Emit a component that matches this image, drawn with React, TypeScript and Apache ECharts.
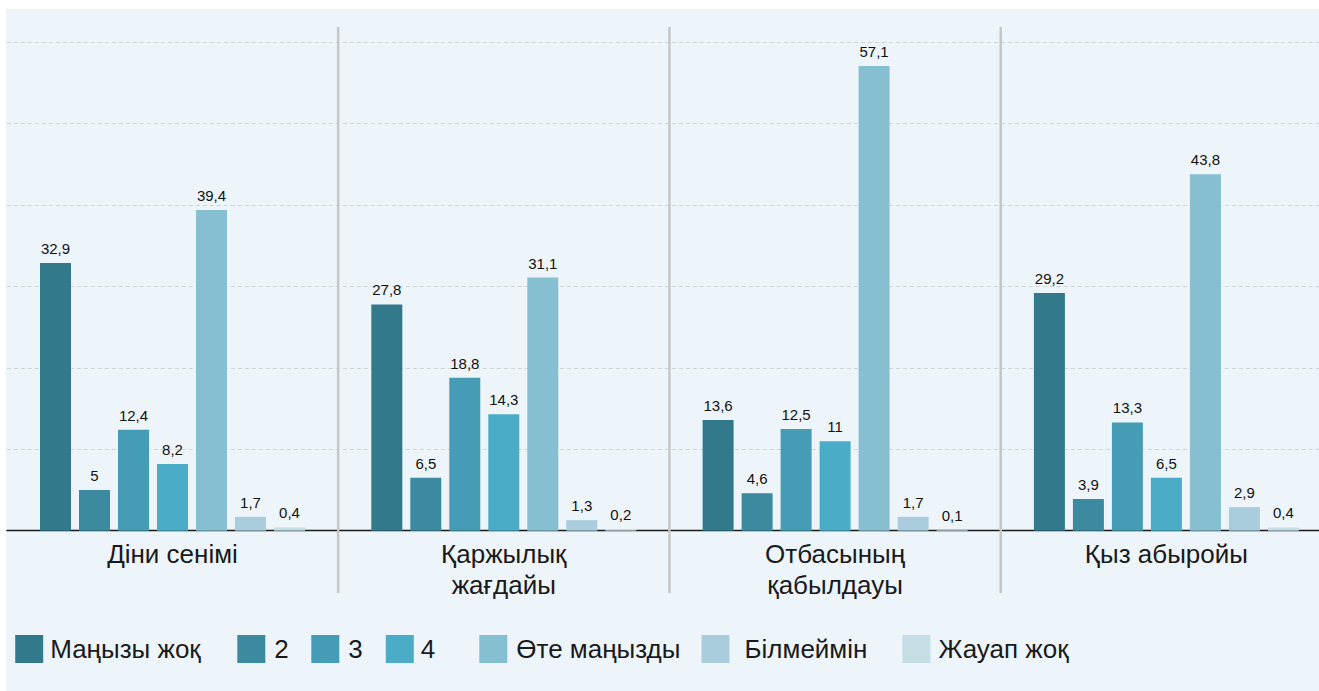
import React, { useEffect, useRef } from "react";
import * as echarts from "echarts";

const categories = ["Діни сенімі", "Қаржылық\nжағдайы", "Отбасының\nқабылдауы", "Қыз абыройы"];
const seriesNames = ["Маңызы жоқ", "2", "3", "4", "Өте маңызды", "Білмеймін", "Жауап жоқ"];
const notImportant = [32.9, 27.8, 13.6, 29.2];
const level2 = [5, 6.5, 4.6, 3.9];
const level3 = [12.4, 18.8, 12.5, 13.3];
const level4 = [8.2, 14.3, 11, 6.5];
const veryImportant = [39.4, 31.1, 57.1, 43.8];
const dontKnow = [1.7, 1.3, 1.7, 2.9];
const noAnswer = [0.4, 0.2, 0.1, 0.4];
const seriesValues = [notImportant, level2, level3, level4, veryImportant, dontKnow, noAnswer];
const colors = ["#327a8b", "#3c8aa0", "#459db5", "#4aacc6", "#85bfd1", "#aacddd", "#c5dee6"];
const legendLefts = [9.2, 231.3, 305.3, 379.8, 473.3, 695.5, 896.4];
const legendTextGaps = [2, 4, 4, 2, 4, 10, 3];

const FONT = "'Liberation Sans', Arial, sans-serif";

export default function App() {
  const ref = useRef<HTMLDivElement>(null);
  useEffect(() => {
    if (!ref.current) return;
    const chart = echarts.init(ref.current, undefined, { renderer: "svg" });
    const gridColors = ["transparent", "#cdd3d6", "#cdd3d6", "#cdd3d6", "#cdd3d6", "#cdd3d6", "#cdd3d6"];
    chart.setOption({
      animation: false,
      backgroundColor: "#edf5fb",
      textStyle: { fontFamily: FONT },
      grid: { left: 0.85, top: 33.3, width: 1325.2, height: 488.4, containLabel: false },
      xAxis: {
        type: "category",
        data: categories,
        offset: 3.6,
        axisLine: { lineStyle: { color: "#1a1a1a", width: 1.3 } },
        axisTick: { show: false },
        splitLine: { show: false },
        axisLabel: {
          interval: 0,
          fontSize: 26,
          lineHeight: 31,
          margin: 4,
          color: "#1a1a1a",
          fontFamily: FONT,
        },
      },
      yAxis: {
        type: "value",
        min: 0,
        max: 60,
        interval: 10,
        axisLabel: { show: false },
        axisLine: { show: false },
        axisTick: { show: false },
        splitLine: { show: true, lineStyle: { type: [4, 3], color: gridColors, width: 1 } },
      },
      legend: seriesNames.map((name, i) => ({
        data: [name],
        left: legendLefts[i],
        top: 626,
        padding: 0,
        itemWidth: 28,
        itemHeight: 28,
        icon: "rect",
        selectedMode: false,
        textStyle: {
          fontSize: 26,
          color: "#1a1a1a",
          fontFamily: FONT,
          padding: [0, 0, 0, legendTextGaps[i]],
        },
      })),
      series: seriesNames.map((name, i) => ({
        name,
        type: "bar",
        data: seriesValues[i],
        barWidth: 31,
        barGap: "25.8%",
        itemStyle: { color: colors[i] },
        label: {
          show: true,
          position: "top",
          distance: 7,
          fontSize: 15,
          color: "#111",
          fontFamily: FONT,
          formatter: (p: any) => String(p.value).replace(".", ","),
        },
      })),
    });
    const xs = categories.map((c) => chart.convertToPixel({ xAxisIndex: 0 }, c) as number);
    const seps = [];
    for (let i = 0; i < xs.length - 1; i++) {
      const x = (xs[i] + xs[i + 1]) / 2;
      seps.push({
        type: "line",
        z: 10,
        shape: { x1: x, y1: 18, x2: x, y2: 584 },
        style: { stroke: "#c6c6c6", lineWidth: 2.5 },
      });
    }
    chart.setOption({ graphic: seps });
    return () => chart.dispose();
  }, []);
  return (
    <div
      style={{
        position: "fixed",
        left: 0,
        top: 0,
        width: 1319,
        height: 691,
        background: "#fff",
        overflow: "hidden",
      }}
    >
      <div ref={ref} style={{ position: "absolute", left: 6, top: 9, width: 1340, height: 682 }} />
    </div>
  );
}
